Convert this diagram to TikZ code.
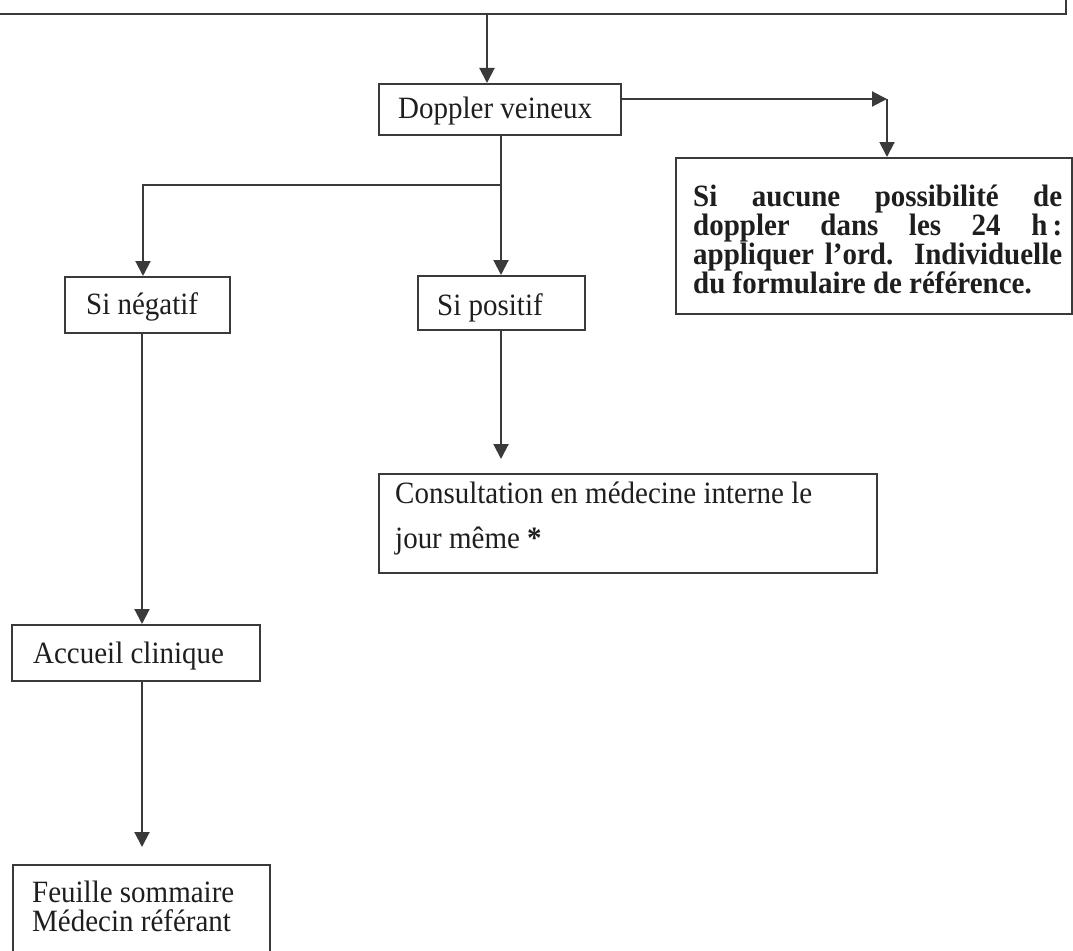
\documentclass[tikz,border=0pt]{standalone}
\usepackage{fontspec}
\setmainfont{Liberation Serif}[FakeStretch=0.935]
\usetikzlibrary{arrows.meta}
\definecolor{lc}{HTML}{3A3A3A}
\definecolor{tc}{HTML}{1E1E1E}
\begin{document}
\begin{tikzpicture}[x=1pt,y=-1pt,
  box/.style={draw=lc,line width=2pt,anchor=north west,inner sep=0pt},
  txt/.style={anchor=base west,inner sep=0pt,text=tc,font=\fontsize{31}{32}\selectfont},
  btxt/.style={anchor=base west,inner sep=0pt,text=tc,font=\fontsize{31}{32}\selectfont\bfseries},
  arr/.style={draw=lc,line width=2pt,-{Triangle[length=15pt,width=15pt]}},
  ln/.style={draw=lc,line width=2pt}]
\useasboundingbox (0,0) rectangle (1073,950);
\clip (0,0) rectangle (1073,950);

% boxes
\node[box,minimum width=1085pt,minimum height=73pt] (top) at (-20,-60) {};
\node[box,minimum width=242pt,minimum height=51pt] (dop) at (378,83) {};
\node[box,minimum width=396pt,minimum height=156pt] (rbox) at (675,157) {};
\node[box,minimum width=165pt,minimum height=56pt] (neg) at (64,276) {};
\node[box,minimum width=167pt,minimum height=54pt] (pos) at (417,275) {};
\node[box,minimum width=498pt,minimum height=99pt] (cons) at (378,473) {};
\node[box,minimum width=248pt,minimum height=56pt] (acc) at (11,624) {};
\node[box,minimum width=257pt,minimum height=120pt] (feu) at (12,864) {};

% texts
\node[txt] (tdop) at (398,118) {Doppler veineux};
\node[btxt] (r1) at (693,206) {\makebox[369pt][s]{Si aucune possibilité de}};
\node[btxt] (r2) at (693,235) {\makebox[369pt][s]{doppler dans les 24 h\,:}};
\node[btxt] (r3) at (693,264) {\makebox[369pt][s]{appliquer l’ord. Individuelle}};
\node[btxt] (r4) at (693,293) {du formulaire de référence.};
\node[txt] (tneg) at (86,314) {Si négatif};
\node[txt] (tpos) at (437,315) {Si positif};
\node[txt] (c1) at (395,503) {Consultation en médecine interne le};
\node[txt] (c2) at (395,548) {jour même \textbf{*}};
\node[txt] (tacc) at (33,663) {Accueil clinique};
\node[txt] (f1) at (32,902) {Feuille sommaire};
\node[txt] (f2) at (32,931) {Médecin référant};

% connectors
\coordinate (d1) at (487,83);
\draw[arr] (top.south -| d1) -- (d1);
\coordinate (corner) at (887,99);
\draw[arr] (dop.east |- corner) -- (corner);
\draw[arr] (corner) -- (corner |- rbox.north);
\coordinate (split) at (501,185);
\draw[ln] (dop.south -| split) -- (split);
\coordinate (nx) at (143,0);
\draw[arr] (split) -- (split -| nx) -- (neg.north -| nx);
\draw[arr] (split) -- (pos.north -| split);
\draw[arr,shorten >=14pt] (pos.south -| split) -- (cons.north -| split);
\coordinate (ax) at (142,0);
\draw[arr] (neg.south -| ax) -- (acc.north -| ax);
\draw[arr,shorten >=17pt] (acc.south -| ax) -- (feu.north -| ax);
\end{tikzpicture}
\end{document}
